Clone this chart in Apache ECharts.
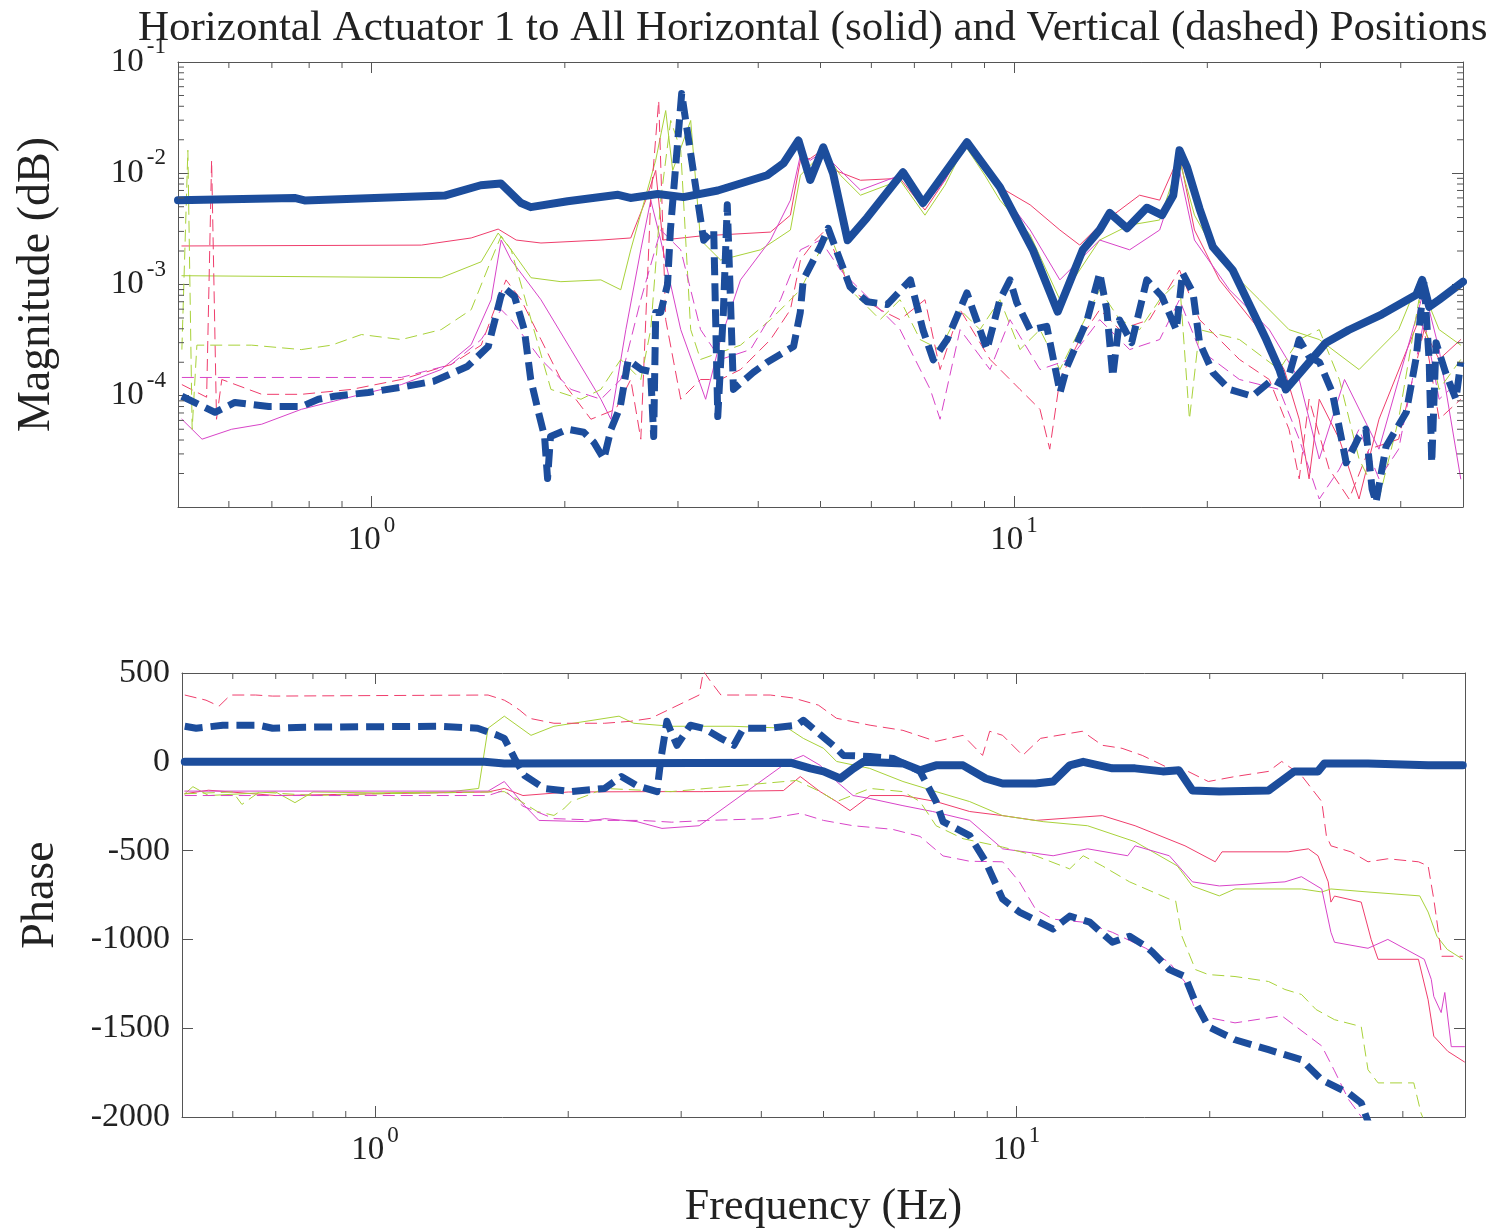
<!DOCTYPE html>
<html>
<head>
<meta charset="utf-8">
<title>Horizontal Actuator 1</title>
<script src="https://cdn.jsdelivr.net/npm/echarts@6/dist/echarts.min.js"></script>
<style>
html, body { margin: 0; padding: 0; background: #fff; }
#chart { width: 1501px; height: 1232px; }
</style>
</head>
<body>
<div id="chart"></div>
<script>
//频率范围
const freqMin = 0.5;
const freqMax = 50;
const magMin = 1e-5;
const magMax = 1e-1;
const phaseMin = -2000;
const phaseMax = 500;

//次刻度
const minorFreq = [0.6, 0.7, 0.8, 0.9, 2, 3, 4, 5, 6, 7, 8, 9, 20, 30, 40];
const minorMag = [2e-5, 3e-5, 4e-5, 5e-5, 6e-5, 7e-5, 8e-5, 9e-5,
    2e-4, 3e-4, 4e-4, 5e-4, 6e-4, 7e-4, 8e-4, 9e-4,
    2e-3, 3e-3, 4e-3, 5e-3, 6e-3, 7e-3, 8e-3, 9e-3,
    2e-2, 3e-2, 4e-2, 5e-2, 6e-2, 7e-2, 8e-2, 9e-2];

//幅值 - 水平1 (粗实线)
const magH1 = [[0.5, 5.73e-3], [0.759, 6.0e-3], [0.787, 5.7e-3], [1.3, 6.3e-3], [1.48, 7.8e-3], [1.59, 8.1e-3], [1.71, 5.4e-3], [1.77, 4.96e-3], [2.02, 5.6e-3], [2.42, 6.4e-3], [2.53, 6.0e-3], [2.79, 6.5e-3], [3.06, 6.1e-3], [3.46, 7.0e-3], [4.13, 9.6e-3], [4.38, 1.23e-2], [4.62, 1.97e-2], [4.82, 8.7e-3], [5.05, 1.71e-2], [5.23, 1.0e-2], [5.51, 2.5e-3], [5.91, 4.0e-3], [6.72, 1.02e-2], [7.22, 5.4e-3], [8.45, 1.9e-2], [9.51, 7.5e-3], [10.7, 2.05e-3], [11.7, 5.7e-4], [12.8, 2.05e-3], [13.6, 3.1e-3], [14.1, 4.4e-3], [15.0, 3.2e-3], [16.1, 4.9e-3], [17.0, 4.2e-3], [17.7, 6.3e-3], [18.1, 1.61e-2], [18.6, 1.13e-2], [19.45, 4.8e-3], [20.4, 2.18e-3], [21.9, 1.35e-3], [24.7, 3.2e-4], [25.9, 1.72e-4], [26.5, 1.14e-4], [30.6, 3.0e-4], [33.2, 3.9e-4], [37.4, 5.4e-4], [42.3, 8.1e-4], [43.2, 1.1e-3], [44.3, 6.3e-4], [45.9, 7.3e-4], [50, 1.06e-3]];
//幅值 - 垂直1 (粗虚线)
const magV1 = [[0.507, 9.9e-5], [0.571, 7.1e-5], [0.613, 8.7e-5], [0.692, 8.0e-5], [0.778, 8.0e-5], [0.827, 9.3e-5], [0.876, 9.9e-5], [0.989, 1.07e-4], [1.11, 1.19e-4], [1.25, 1.35e-4], [1.41, 1.83e-4], [1.52, 2.77e-4], [1.59, 7.8e-4], [1.61, 9.3e-4], [1.67, 7.8e-4], [1.73, 3.9e-4], [1.77, 1.4e-4], [1.82, 7.1e-5], [1.86, 4.3e-5], [1.88, 1.8e-5], [1.90, 4.3e-5], [2.02, 5.0e-5], [2.14, 4.7e-5], [2.22, 3.8e-5], [2.30, 2.7e-5], [2.36, 5.0e-5], [2.44, 8.0e-5], [2.51, 2.1e-4], [2.63, 1.72e-4], [2.72, 1.65e-4], [2.75, 4.3e-5], [2.77, 5.6e-4], [2.82, 5.6e-4], [2.89, 1.0e-3], [2.92, 3.1e-3], [3.04, 5.2e-2], [3.29, 2.5e-3], [3.41, 3.1e-3], [3.46, 6.5e-5], [3.53, 5.6e-4], [3.58, 5.2e-3], [3.66, 1.14e-4], [3.93, 1.62e-4], [4.13, 2.0e-4], [4.38, 2.45e-4], [4.54, 2.77e-4], [4.65, 5.6e-4], [4.70, 1.1e-3], [5.0, 2.2e-3], [5.14, 3.2e-3], [5.56, 9.5e-4], [5.91, 7.0e-4], [6.35, 6.6e-4], [6.90, 1.1e-3], [7.22, 3.9e-4], [7.49, 2.1e-4], [7.87, 3.2e-4], [8.45, 8.4e-4], [9.08, 2.6e-4], [9.51, 7.3e-4], [9.86, 1.1e-3], [10.1, 6.9e-4], [10.6, 3.9e-4], [11.25, 4.2e-4], [11.8, 1.07e-4], [12.1, 1.83e-4], [13.0, 4.8e-4], [13.6, 1.27e-3], [13.95, 5.9e-4], [14.25, 1.49e-4], [14.6, 4.8e-4], [15.25, 3.0e-4], [16.1, 1.1e-3], [17.0, 7.8e-4], [17.9, 3.9e-4], [18.3, 1.27e-3], [19.0, 8.4e-4], [19.45, 3.0e-4], [20.4, 1.62e-4], [21.65, 1.14e-4], [23.5, 9.9e-5], [25.25, 1.4e-4], [26.5, 1.21e-4], [27.8, 3.2e-4], [28.8, 2.25e-4], [29.9, 2.0e-4], [31.3, 1.07e-4], [32.9, 2.5e-5], [34.45, 4.3e-5], [35.3, 5.0e-5], [36.1, 1.45e-5], [36.6, 1.1e-5], [37.95, 3.5e-5], [40.8, 7.1e-5], [42.3, 2.25e-4], [43.5, 1.1e-3], [44.3, 2.0e-4], [44.7, 2.5e-5], [45.4, 3.0e-4], [47.0, 1.6e-4], [48.75, 9.3e-5], [49.6, 2.0e-4]];
//幅值 - 细线
const magRed = [[0.507, 2.22e-3], [1.196, 2.26e-3], [1.43, 2.62e-3], [1.575, 3.15e-3], [1.68, 2.51e-3], [1.836, 2.36e-3], [2.276, 2.51e-3], [2.533, 2.62e-3], [2.673, 5.73e-3], [2.77, 1.06e-2], [2.84, 2.51e-3], [3.253, 2.73e-3], [4.18, 2.96e-3], [4.489, 4.2e-3], [4.653, 1.31e-2], [4.823, 1.36e-2], [5.03, 1.61e-2], [5.27, 1.06e-2], [5.77, 8.65e-3], [6.65, 9.0e-3], [7.27, 4.67e-3], [7.81, 8.65e-3], [8.39, 1.78e-2], [9.01, 1.06e-2], [9.51, 7.5e-3], [10.6, 5.2e-3], [11.79, 3.09e-3], [12.66, 2.26e-3], [13.6, 3.42e-3], [15.69, 6.35e-3], [16.86, 5.73e-3], [18.1, 1.45e-2], [19.1, 3.09e-3], [20.89, 1.1e-3], [24.1, 3.93e-4], [26.35, 1.72e-4], [27.8, 6.15e-5], [28.8, 1.79e-5], [29.87, 9.3e-5], [32.1, 4.07e-5], [34.45, 1.18e-5], [37.0, 6.15e-5], [42.7, 4.83e-4], [45.9, 2.12e-4], [49.6, 3.2e-4]];
const magGreen = [[0.507, 1.2e-3], [1.284, 1.15e-3], [1.482, 1.6e-3], [1.575, 2.9e-3], [1.65, 2.05e-3], [1.772, 1.15e-3], [1.972, 1.06e-3], [2.276, 1.1e-3], [2.444, 8.97e-4], [2.533, 2.05e-3], [2.77, 1.31e-2], [2.871, 3.66e-2], [2.944, 1.06e-2], [3.14, 2.98e-2], [3.253, 2.51e-3], [3.495, 1.66e-3], [4.033, 2.05e-3], [4.489, 3.09e-3], [4.653, 9.6e-3], [4.91, 1.31e-2], [5.03, 1.67e-2], [5.37, 9.6e-3], [5.77, 6.35e-3], [6.65, 8.65e-3], [7.27, 4.2e-3], [7.81, 7.8e-3], [8.39, 1.78e-2], [9.01, 9.6e-3], [9.51, 5.73e-3], [10.6, 2.79e-3], [11.79, 7.3e-4], [12.66, 1.35e-3], [13.6, 2.51e-3], [15.14, 3.42e-3], [16.86, 3.8e-3], [18.1, 1.31e-2], [19.1, 4.2e-3], [20.89, 1.66e-3], [24.1, 7.3e-4], [26.8, 3.93e-4], [29.87, 3.2e-4], [34.45, 1.72e-4], [39.7, 3.93e-4], [42.7, 1.1e-3], [45.9, 3.93e-4], [49.6, 2.85e-4]];
const magMagenta = [[0.507, 6.15e-5], [0.545, 4.07e-5], [0.606, 5.0e-5], [0.675, 5.55e-5], [0.778, 7.55e-5], [0.898, 9.3e-5], [1.113, 1.26e-4], [1.284, 1.72e-4], [1.43, 2.88e-4], [1.536, 7.3e-4], [1.592, 2.51e-3], [1.65, 1.66e-3], [1.836, 7.3e-4], [2.045, 2.6e-4], [2.276, 9.3e-5], [2.359, 6.15e-5], [2.489, 3.93e-4], [2.626, 2.05e-3], [2.721, 5.73e-3], [2.82, 2.51e-3], [3.03, 3.93e-4], [3.313, 9.3e-5], [3.495, 3.2e-4], [3.754, 1.1e-3], [4.18, 2.51e-3], [4.489, 5.73e-3], [4.653, 1.45e-2], [4.823, 1.31e-2], [5.03, 1.54e-2], [5.37, 1.06e-2], [5.77, 7.05e-3], [6.65, 9.6e-3], [7.27, 5.2e-3], [7.81, 8.65e-3], [8.39, 1.9e-2], [9.01, 1.06e-2], [9.51, 7.05e-3], [10.6, 3.09e-3], [11.79, 1.1e-3], [12.66, 1.66e-3], [13.6, 2.51e-3], [15.14, 2.05e-3], [16.86, 3.09e-3], [18.1, 1.06e-2], [19.1, 2.51e-3], [21.65, 8.97e-4], [24.97, 3.93e-4], [27.8, 1.4e-4], [29.87, 2.7e-5], [32.7, 1.4e-4], [37.0, 3.31e-5], [39.7, 1.4e-4], [43.5, 8.97e-4], [45.9, 2.6e-4], [49.6, 1.79e-5]];
const magRedDash = [[0.507, 1.26e-4], [0.554, 9.7e-5], [0.564, 1.31e-2], [0.574, 6.15e-5], [0.585, 1.4e-4], [0.675, 1.03e-4], [0.778, 1.03e-4], [0.931, 1.14e-4], [1.113, 1.4e-4], [1.331, 1.91e-4], [1.482, 2.85e-4], [1.575, 7.3e-4], [1.62, 1.1e-3], [1.71, 7.3e-4], [1.836, 3.2e-4], [1.972, 1.4e-4], [2.196, 6.15e-5], [2.4, 7.55e-5], [2.533, 1.4e-4], [2.626, 4.07e-5], [2.721, 5.73e-3], [2.80, 4.5e-2], [2.871, 4.83e-4], [3.03, 9.3e-5], [3.253, 1.4e-4], [3.495, 1.4e-4], [3.754, 1.72e-4], [4.18, 3.2e-4], [4.489, 5.94e-4], [4.653, 1.66e-3], [4.91, 2.51e-3], [5.09, 3.09e-3], [5.565, 8.97e-4], [6.19, 5.94e-4], [6.65, 4.83e-4], [7.27, 7.3e-4], [7.675, 1.72e-4], [8.245, 5.94e-4], [9.18, 2.12e-4], [10.22, 1.14e-4], [10.98, 7.55e-5], [11.37, 3.31e-5], [11.79, 1.4e-4], [12.66, 3.2e-4], [13.6, 5.94e-4], [14.61, 3.93e-4], [16.26, 4.83e-4], [18.1, 1.35e-3], [19.45, 4.83e-4], [22.44, 2.12e-4], [24.97, 1.4e-4], [26.8, 5.0e-5], [27.8, 1.79e-5], [28.8, 9.3e-5], [30.95, 2.19e-5], [33.24, 1.18e-5], [35.7, 3.31e-5], [39.7, 4.07e-5], [43.5, 3.93e-4], [45.9, 6.15e-5], [49.6, 9.3e-5]];
const magGreenDash = [[0.507, 2.6e-4], [0.518, 1.61e-2], [0.526, 5.0e-5], [0.535, 2.85e-4], [0.545, 2.85e-4], [0.651, 2.85e-4], [0.778, 2.6e-4], [0.867, 2.85e-4], [0.965, 3.55e-4], [1.113, 3.2e-4], [1.284, 3.93e-4], [1.43, 5.94e-4], [1.536, 1.66e-3], [1.592, 2.73e-3], [1.65, 2.05e-3], [1.772, 4.83e-4], [1.903, 1.14e-4], [2.119, 9.3e-5], [2.276, 1.14e-4], [2.444, 2.12e-4], [2.626, 1.4e-4], [2.721, 3.93e-4], [2.82, 5.73e-3], [2.923, 2.98e-2], [3.03, 1.61e-2], [3.14, 3.93e-4], [3.253, 2.12e-4], [3.754, 2.85e-4], [4.18, 4.83e-4], [4.653, 8.97e-4], [4.998, 2.05e-3], [5.18, 2.79e-3], [5.565, 8.97e-4], [6.19, 4.83e-4], [6.65, 7.3e-4], [7.145, 3.2e-4], [7.675, 2.6e-4], [8.245, 5.94e-4], [8.855, 3.93e-4], [9.51, 7.3e-4], [10.22, 2.6e-4], [10.98, 3.93e-4], [11.79, 1.72e-4], [12.66, 3.93e-4], [13.6, 8.97e-4], [14.61, 4.83e-4], [15.69, 3.93e-4], [16.86, 7.3e-4], [18.1, 1.1e-3], [18.76, 6.15e-5], [19.45, 3.93e-4], [22.44, 3.2e-4], [25.88, 1.72e-4], [27.8, 3.2e-4], [29.87, 3.93e-4], [32.1, 1.4e-4], [34.45, 2.7e-5], [37.0, 1.18e-5], [39.7, 6.15e-5], [42.7, 7.3e-4], [45.9, 1.14e-4], [49.6, 2.12e-4]];
const magMagentaDash = [[0.507, 1.46e-4], [1.113, 1.46e-4], [1.331, 1.91e-4], [1.482, 3.2e-4], [1.592, 5.94e-4], [1.65, 4.83e-4], [1.836, 2.12e-4], [2.045, 1.14e-4], [2.276, 9.3e-5], [2.444, 1.4e-4], [2.626, 7.3e-4], [2.82, 3.09e-3], [3.03, 2.05e-3], [3.253, 3.93e-4], [3.495, 2.12e-4], [3.89, 2.6e-4], [4.332, 7.3e-4], [4.653, 2.05e-3], [4.998, 2.51e-3], [5.37, 1.35e-3], [5.976, 7.3e-4], [6.65, 3.93e-4], [7.41, 1.14e-4], [7.675, 6.15e-5], [8.245, 3.93e-4], [9.18, 1.72e-4], [9.86, 4.83e-4], [10.98, 1.72e-4], [12.2, 2.12e-4], [13.6, 4.83e-4], [15.14, 2.6e-4], [16.86, 3.2e-4], [18.1, 7.3e-4], [19.45, 2.6e-4], [22.44, 1.4e-4], [25.88, 1.14e-4], [27.8, 4.07e-5], [29.87, 1.18e-5], [32.1, 2.19e-5], [34.45, 5.0e-5], [37.0, 1.79e-5], [39.7, 3.31e-5], [43.5, 4.83e-4], [45.9, 9.3e-5], [49.6, 1.4e-4]];

//相位 - 水平1 (粗实线)
const phaseH1 = [[0.505, 0], [1.48, 0], [1.59, -9], [4.44, -5], [4.77, -37], [5.0, -54], [5.31, -94], [5.57, -37], [5.77, 0], [6.65, -9], [7.07, -48], [7.49, -20], [8.25, -20], [8.95, -94], [9.51, -122], [10.7, -122], [11.4, -111], [12.1, -20], [12.7, 0], [14.1, -37], [15.3, -37], [16.9, -54], [17.9, -48], [18.8, -162], [20.7, -167], [24.7, -162], [27.1, -54], [29.5, -54], [30.2, -9], [35.3, -9], [43.8, -20], [49.6, -20]];
//相位 - 垂直1 (粗虚线)
const phaseV1 = [[0.505, 200], [0.526, 189], [0.579, 206], [0.658, 206], [0.692, 189], [0.778, 195], [1.25, 200], [1.445, 189], [1.552, 149], [1.59, 132], [1.65, 19], [1.71, -77], [1.836, -150], [2.02, -168], [2.28, -150], [2.42, -83], [2.56, -134], [2.75, -168], [2.79, 19], [2.85, 228], [2.89, 172], [2.955, 93], [3.1, 206], [3.25, 189], [3.46, 132], [3.625, 93], [3.75, 189], [4.13, 189], [4.54, 206], [4.65, 234], [5.24, 76], [5.37, 36], [5.91, 30], [6.42, 19], [7.07, -54], [7.49, -224], [7.68, -337], [8.45, -416], [8.95, -563], [9.51, -773], [10.1, -846], [11.4, -942], [12.1, -869], [13.0, -903], [14.1, -1016], [15.0, -982], [15.9, -1039], [16.3, -1073], [17.3, -1170], [18.3, -1209], [19.0, -1355], [19.9, -1491], [21.9, -1565], [24.7, -1621], [27.8, -1678], [29.9, -1791], [32.9, -1865], [34.45, -1921], [35.5, -2050]];
//相位 - 细线
const phaseRed = [[0.505, -180], [0.55, -160], [0.7, -190], [1.0, -180], [1.5, -170], [1.59, -150], [1.7, -190], [2.0, -170], [2.7, -168], [3.25, -168], [4.33, -162], [4.6, -83], [4.94, -168], [5.24, -224], [5.5, -275], [5.91, -190], [6.65, -190], [7.49, -224], [8.45, -280], [9.51, -303], [10.7, -330], [13.6, -303], [15.3, -360], [18.3, -473], [20.4, -563], [20.9, -507], [26.5, -507], [28.5, -490], [29.5, -529], [30.6, -676], [30.9, -790], [31.3, -756], [34.45, -790], [35.7, -1000], [36.6, -1112], [42.3, -1112], [43.8, -1340], [44.7, -1545], [47, -1630], [49.9, -1690]];
const phaseGreen = [[0.505, -180], [0.52, -140], [0.55, -190], [0.7, -170], [0.75, -230], [0.8, -170], [1.0, -175], [1.3, -170], [1.45, -150], [1.5, 189], [1.59, 257], [1.75, 149], [1.9, 200], [2.4, 257], [2.53, 217], [2.9, 200], [3.6, 200], [4.4, 189], [4.65, 132], [5.0, 76], [5.24, 2], [5.9, -37], [6.65, -111], [7.49, -168], [8.45, -224], [9.51, -303], [11.0, -337], [12.9, -360], [15.3, -450], [17.8, -586], [18.8, -700], [20.7, -755], [21.9, -716], [27.8, -716], [29.9, -733], [30.9, -716], [35.3, -733], [42.5, -755], [43.8, -846], [45.2, -982], [46.9, -1056], [49.6, -1112]];
const phaseMagenta = [[0.505, -165], [1.5, -165], [1.59, -111], [1.71, -247], [1.8, -330], [2.14, -337], [2.28, -320], [2.56, -337], [2.8, -375], [3.2, -360], [4.4, 0], [4.65, 36], [4.94, -20], [5.24, -111], [5.56, -190], [5.91, -207], [6.65, -247], [7.4, -280], [8.45, -330], [9.51, -490], [11.4, -529], [12.9, -490], [14.9, -529], [15.3, -473], [17.3, -529], [18.8, -676], [20.7, -699], [26.2, -676], [27.8, -647], [29.9, -716], [30.9, -960], [31.3, -1016], [35.3, -1050], [37.9, -1000], [43.2, -1112], [44.3, -1225], [44.7, -1321], [45.9, -1412], [46.5, -1299], [47.6, -1604], [49.9, -1604]];
const phaseRedDash = [[0.505, 376], [0.545, 347], [0.571, 313], [0.595, 376], [0.651, 376], [0.692, 370], [1.5, 376], [1.59, 347], [1.62, 330], [1.68, 291], [1.74, 245], [1.9, 217], [2.28, 217], [2.5, 228], [2.69, 245], [3.2, 376], [3.25, 511], [3.33, 455], [3.46, 376], [4.13, 376], [4.49, 359], [4.91, 319], [5.24, 245], [5.91, 206], [6.65, 177], [7.49, 115], [8.25, 149], [8.85, 36], [9.08, 172], [9.51, 149], [10.22, 36], [10.9, 132], [12.66, 172], [13.6, 93], [14.6, 76], [15.7, 36], [17.3, -37], [18.5, -54], [19.9, -111], [21.9, -83], [24.7, -54], [25.9, 2], [27.8, -77], [29.9, -224], [30.4, -416], [30.9, -473], [33.2, -507], [35.3, -563], [37.9, -546], [42.3, -563], [43.8, -586], [44.7, -773], [46, -1095], [49.6, -1095]];
const phaseGreenDash = [[0.505, -180], [0.6, -170], [0.62, -240], [0.66, -170], [0.8, -190], [1.0, -180], [1.5, -170], [1.59, -168], [1.69, -224], [1.79, -280], [1.9, -302], [1.97, -263], [2.02, -224], [2.14, -190], [2.28, -150], [2.89, -168], [4.54, -105], [4.94, -168], [5.24, -224], [5.91, -150], [6.65, -168], [7.07, -224], [7.49, -360], [8.25, -433], [9.51, -480], [10.7, -529], [12.1, -603], [12.7, -529], [13.6, -586], [15.0, -676], [17.3, -773], [17.7, -784], [18.1, -982], [19.0, -1170], [19.9, -1198], [21.9, -1209], [24.7, -1237], [26.2, -1282], [27.8, -1310], [29.3, -1395], [31.3, -1452], [34.45, -1491], [35.3, -1734], [36.6, -1808], [41.6, -1808], [42.7, -1978], [43.5, -2050]];
const phaseMagentaDash = [[0.505, -190], [1.5, -190], [1.59, -160], [1.7, -250], [1.9, -320], [2.3, -330], [2.6, -330], [2.9, -340], [3.3, -330], [4.1, -320], [4.6, -290], [5.0, -330], [5.56, -360], [6.4, -380], [7.07, -420], [7.68, -530], [8.45, -560], [9.51, -563], [10.1, -676], [10.7, -829], [11.4, -886], [12.7, -903], [14.1, -960], [15.9, -1050], [17.3, -1130], [18.3, -1240], [19.0, -1400], [19.9, -1440], [21.9, -1470], [25.9, -1430], [29.9, -1600], [31.3, -1740], [32.9, -1900], [35.3, -2050]];

//颜色
const blue = '#1c4d9c';
const red = '#ef3d6c';
const green = '#a9d23a';
const magenta = '#d844c8';
const axisColor = '#555';
const textColor = '#222';
const fontFamily = '"Liberation Serif", "DejaVu Serif", serif';

let chart = echarts.init(document.getElementById('chart'));

//10的幂标签
function powerLabel(value, skip) {
    let e = Math.round(Math.log10(value));
    if (Math.abs(Math.log10(value) - e) > 1e-6) return '';
    if (skip.indexOf(e) >= 0) return '';
    return '{b|10}{e|' + e + '}';
}

const powerRich = {
    b: { fontSize: 33, fontFamily: fontFamily, color: textColor, lineHeight: 33 },
    e: { fontSize: 23, fontFamily: fontFamily, color: textColor, lineHeight: 23, padding: [0, 0, 30, 3] }
};

const tickStyle = { stroke: axisColor, lineWidth: 1 };

function axisBase(extra) {
    let base = {
        axisLine: { show: true, onZero: false, lineStyle: { color: axisColor, width: 1 } },
        axisTick: { show: true, inside: true, length: 11, lineStyle: { color: axisColor } },
        splitLine: { show: false },
        axisLabel: { show: false }
    };
    return Object.assign(base, extra);
}

//次刻度 (x)
function xMinorTicks(xIdx, yIdx, yLow, yHigh) {
    return {
        type: 'custom',
        xAxisIndex: xIdx,
        yAxisIndex: yIdx,
        silent: true,
        clip: false,
        z: 5,
        data: minorFreq.map(function (f) { return [f, yLow]; }),
        renderItem: function (params, api) {
            let b = api.coord([api.value(0), yLow]);
            let t = api.coord([api.value(0), yHigh]);
            return {
                type: 'group',
                children: [
                    { type: 'line', shape: { x1: b[0], y1: b[1], x2: b[0], y2: b[1] - 6 }, style: tickStyle },
                    { type: 'line', shape: { x1: t[0], y1: t[1], x2: t[0], y2: t[1] + 6 }, style: tickStyle }
                ]
            };
        }
    };
}

//次刻度 (y, 对数)
function yMinorTicks() {
    return {
        type: 'custom',
        xAxisIndex: 0,
        yAxisIndex: 0,
        silent: true,
        clip: false,
        z: 5,
        data: minorMag.map(function (v) { return [freqMin, v]; }),
        renderItem: function (params, api) {
            let l = api.coord([freqMin, api.value(1)]);
            let r = api.coord([freqMax, api.value(1)]);
            return {
                type: 'group',
                children: [
                    { type: 'line', shape: { x1: l[0], y1: l[1], x2: l[0] + 6, y2: l[1] }, style: tickStyle },
                    { type: 'line', shape: { x1: r[0], y1: r[1], x2: r[0] - 6, y2: r[1] }, style: tickStyle }
                ]
            };
        }
    };
}

function lineSeries(data, color, width, dashed, xIdx, yIdx, z) {
    return {
        type: 'line',
        data: data,
        xAxisIndex: xIdx,
        yAxisIndex: yIdx,
        symbol: 'none',
        silent: true,
        z: z,
        lineStyle: {
            color: color,
            width: width,
            type: dashed ? (width > 3 ? [18, 8] : [12, 6]) : 'solid',
            join: 'round',
            cap: dashed ? 'butt' : 'round'
        }
    };
}

let option = {
    backgroundColor: '#fff',
    animation: false,
    title: {
        text: 'Horizontal Actuator 1 to All Horizontal (solid) and Vertical (dashed) Positions',
        left: 133,
        top: 2,
        textStyle: { fontFamily: fontFamily, fontSize: 43, fontWeight: 'normal', color: textColor }
    },
    grid: [
        { left: 178, right: 38, top: 62, height: 445 },
        { left: 182, right: 36, top: 673, height: 444 }
    ],
    xAxis: [
        axisBase({
            gridIndex: 0, type: 'log', logBase: 10, min: freqMin, max: freqMax, position: 'bottom',
            axisLabel: { show: true, margin: 17, formatter: function (v) { return powerLabel(v, []); }, rich: powerRich }
        }),
        axisBase({ gridIndex: 0, type: 'log', logBase: 10, min: freqMin, max: freqMax, position: 'top' }),
        axisBase({
            gridIndex: 1, type: 'log', logBase: 10, min: freqMin, max: freqMax, position: 'bottom',
            axisLabel: { show: true, margin: 17, formatter: function (v) { return powerLabel(v, []); }, rich: powerRich },
            name: 'Frequency (Hz)', nameLocation: 'middle', nameGap: 68,
            nameTextStyle: { fontFamily: fontFamily, fontSize: 44, color: textColor }
        }),
        axisBase({ gridIndex: 1, type: 'log', logBase: 10, min: freqMin, max: freqMax, position: 'top' })
    ],
    yAxis: [
        axisBase({
            gridIndex: 0, type: 'log', logBase: 10, min: magMin, max: magMax, position: 'left',
            axisLabel: { show: true, margin: 12, formatter: function (v) { return powerLabel(v, [-5]); }, rich: powerRich },
            name: 'Magnitude (dB)', nameLocation: 'middle', nameGap: 118,
            nameTextStyle: { fontFamily: fontFamily, fontSize: 46, color: textColor }
        }),
        axisBase({ gridIndex: 0, type: 'log', logBase: 10, min: magMin, max: magMax, position: 'right' }),
        axisBase({
            gridIndex: 1, type: 'value', min: phaseMin, max: phaseMax, interval: 500, position: 'left',
            axisLabel: {
                show: true, margin: 12, fontFamily: fontFamily, fontSize: 34, color: textColor,
                formatter: function (v) { return String(v); }
            },
            name: 'Phase', nameLocation: 'middle', nameGap: 118,
            nameTextStyle: { fontFamily: fontFamily, fontSize: 46, color: textColor }
        }),
        axisBase({ gridIndex: 1, type: 'value', min: phaseMin, max: phaseMax, interval: 500, position: 'right' })
    ],
    series: [
        lineSeries(magRed, red, 1, false, 0, 0, 2),
        lineSeries(magGreen, green, 1, false, 0, 0, 2),
        lineSeries(magMagenta, magenta, 1, false, 0, 0, 2),
        lineSeries(magRedDash, red, 1, true, 0, 0, 2),
        lineSeries(magGreenDash, green, 1, true, 0, 0, 2),
        lineSeries(magMagentaDash, magenta, 1, true, 0, 0, 2),
        lineSeries(magH1, blue, 8, false, 0, 0, 3),
        lineSeries(magV1, blue, 7, true, 0, 0, 3),
        lineSeries(phaseRed, red, 1, false, 2, 2, 2),
        lineSeries(phaseGreen, green, 1, false, 2, 2, 2),
        lineSeries(phaseMagenta, magenta, 1, false, 2, 2, 2),
        lineSeries(phaseRedDash, red, 1, true, 2, 2, 2),
        lineSeries(phaseGreenDash, green, 1, true, 2, 2, 2),
        lineSeries(phaseMagentaDash, magenta, 1, true, 2, 2, 2),
        lineSeries(phaseH1, blue, 8, false, 2, 2, 3),
        lineSeries(phaseV1, blue, 7, true, 2, 2, 3),
        xMinorTicks(0, 0, magMin, magMax),
        xMinorTicks(2, 2, phaseMin, phaseMax),
        yMinorTicks()
    ]
};

chart.setOption(option);
</script>
</body>
</html>
